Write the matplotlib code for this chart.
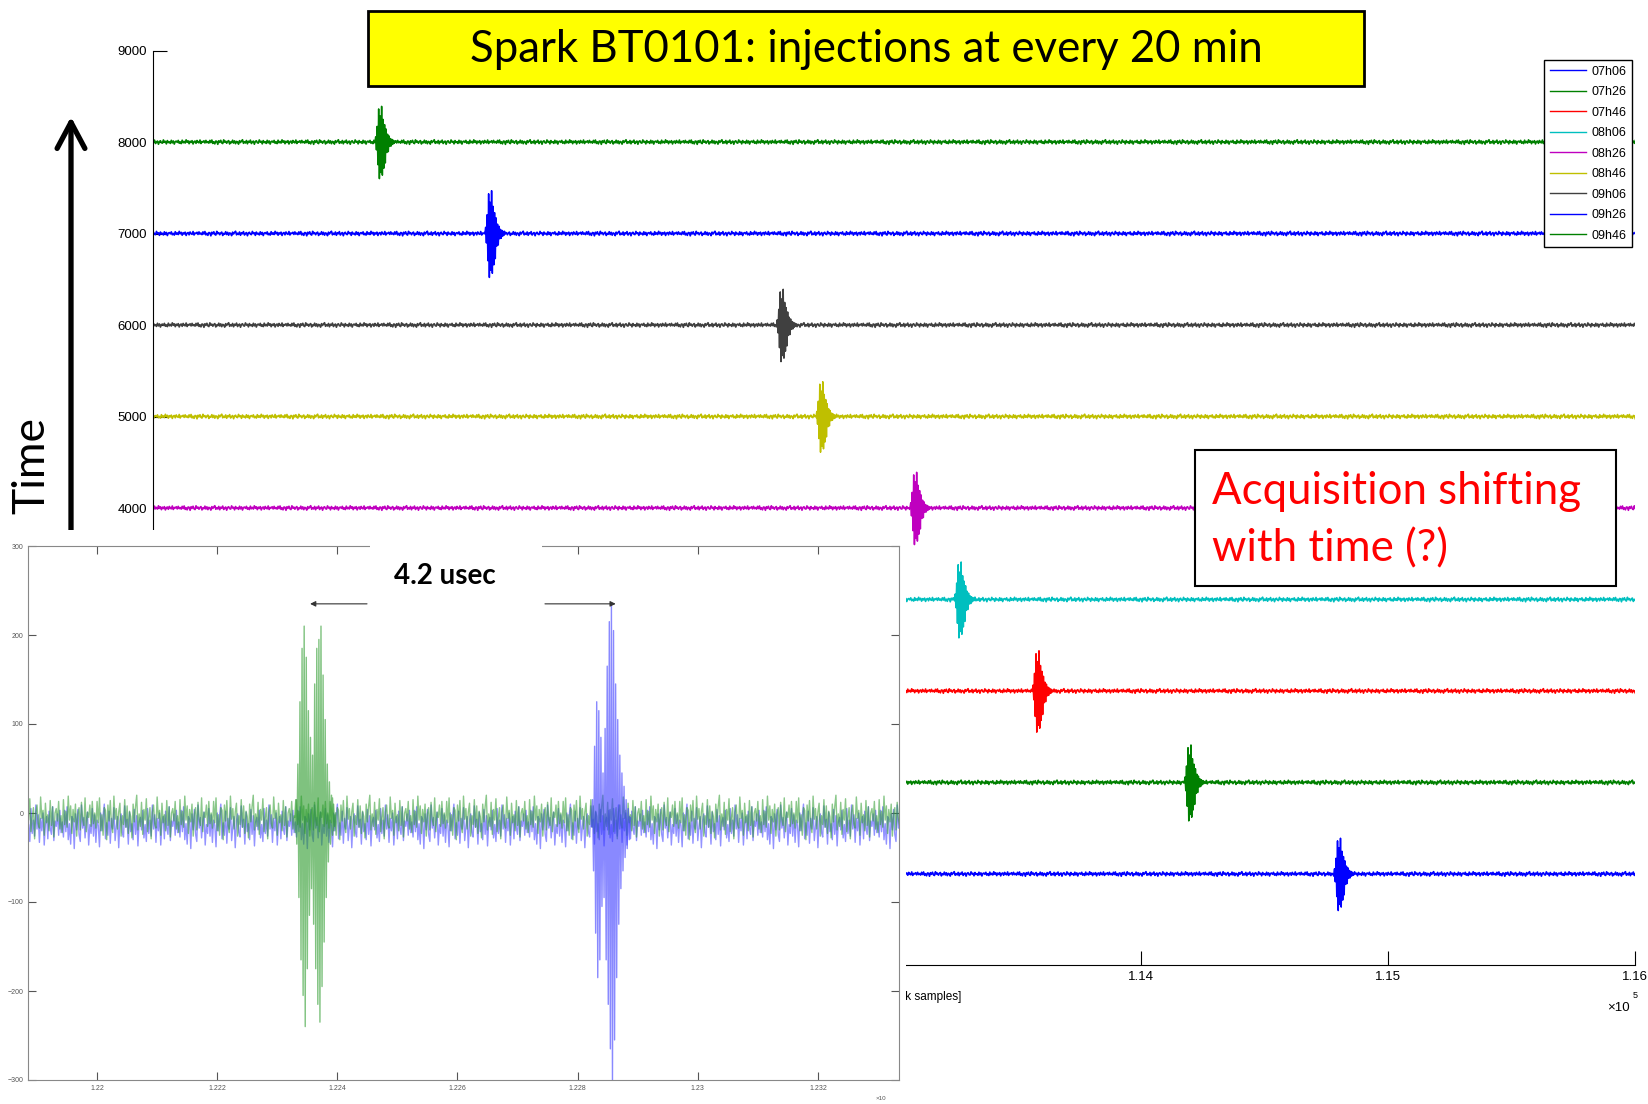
import numpy as np
import matplotlib
matplotlib.use("Agg")
import matplotlib.pyplot as plt
from matplotlib.patches import Rectangle, FancyArrowPatch
from matplotlib.ticker import FuncFormatter

# traces, in legend order (offset in the waterfall = 1000 per injection)
labels = ["07h06", "07h26", "07h46", "08h06", "08h26", "08h46", "09h06", "09h26", "09h46"]
offsets = [0, 1000, 2000, 3000, 4000, 5000, 6000, 7000, 8000]
colors = ["#0000ff", "#008000", "#ff0000", "#00bfbf", "#bf00bf", "#bfbf00", "#404040", "#0000ff", "#008000"]
burst_start = [114780, 114175, 113560, 113245, 113065, 112685, 112525, 111345, 110900]
burst_peak = [400, 420, 450, 420, 400, 390, 400, 480, 400]

# burst shape (units for a 420 peak)
burst = [0, 60, -90, 180, -260, 380, -420, 300, -350, 410, -380, 260, -300, 200, -240,
         150, -120, 90, -110, 70, -50, 40, -45, 30, -25, 20, -15, 10, 0]
# baseline fuzz
noise = [5, -12, 18, -6, 22, -15, 3, -20, 11, 8, -25, 14, -4, 19, -9, -17, 24, -2, 10, -13,
         6, 16, -21, 2, -8, 20, -11, 13, -18, 7, 1, -23, 15, -5, 12, 25, -14, 4, -10, 17,
         -19, 9, -3, 21, -16, 0, 11, -24, 6, 14, -7, -12, 23, -1, 8, -20, 16, -6, 3, -15,
         19, -9, 12, -22, 5, 10, -4, 18, -13, 2, -17, 20, -8, 7, -11, 24, -3, 13, -18, 9,
         -5, 15, -21, 4, 11, -14, 17, -2, -9, 22, -16, 6, 0, 14, -10, 18, -7]

# zoomed inset: 09h46 (green) vs 09h26 (blue)
green_start = 122329
green_burst = [0, 20, -30, 60, -90, 130, -160, 190, -200, 215, -235, 180, -170, 120, -110, 90,
               -80, 70, -120, 150, -170, 190, -210, 200, -230, 215, -190, 160, -140, 110, -90,
               60, -50, 40, -30, 25, -20, 15, -10, 5]
blue_start = 122823
blue_burst = [0, 30, -50, 90, -120, 140, -170, 130, -150, 100, -90, 60, -80, 110, -150, 180,
              -200, 230, -250, 250, -290, 220, -240, 160, -170, 120, -110, 80, -70, 60, -50,
              45, -35, 30, -25, 20, -15, 10]
green_base = -5
blue_base = -15

W, H = 1649, 1104
fig = plt.figure(figsize=(W / 100, H / 100), dpi=100)
plt.rcParams["font.family"] = ["Liberation Sans", "DejaVu Sans"]


def fx(px):
    return px / W


def fy(py):
    return 1 - py / H


# ---- main waterfall ----
ax = fig.add_axes([0.0925, 0.1255, 0.8992, 0.8287])
xs = np.arange(110000, 116001, 4)
for i in range(len(labels)):
    nz = np.resize(np.roll(noise, 7 * i), len(xs))
    ax.plot(xs, offsets[i] + nz, color=colors[i], lw=1.2, label=labels[i])
    bx = burst_start[i] + np.arange(len(burst)) * 3
    by = offsets[i] + np.array(burst) * burst_peak[i] / 420
    ax.plot(bx, by, color=colors[i], lw=1.1)

ax.set_xlim(110000, 116000)
ax.set_ylim(-1000, 9000)
ax.set_xticks(range(110000, 116001, 1000))
ax.set_yticks(range(-1000, 9001, 1000))
ax.xaxis.set_major_formatter(FuncFormatter(lambda v, p: f"{v / 1e5:g}"))
ax.yaxis.set_major_formatter(FuncFormatter(lambda v, p: f"{int(v)}"))
ax.tick_params(direction="in", length=10, labelsize=9.5, pad=4)
ax.spines["top"].set_visible(False)
ax.spines["right"].set_visible(False)
leg = ax.legend(loc="upper right", bbox_to_anchor=(fx(1632), fy(60)), bbox_transform=fig.transFigure,
                fontsize=9, frameon=True, fancybox=False, edgecolor="black", framealpha=1,
                handlelength=2.9, handletextpad=0.4, labelspacing=0.68, borderpad=0.45,
                borderaxespad=0)
for ln in leg.get_lines():
    ln.set_linewidth(1.0)

fig.text(fx(961), fy(997), "Time [clock samples]", ha="right", va="center", fontsize=8.5, zorder=1)
fig.text(fx(1630), fy(1008), "\u00d710", ha="right", va="center", fontsize=9.5)
fig.text(fx(1633), fy(995), "5", ha="left", va="center", fontsize=6.5)

# white pasted panel + zoomed inset
fig.add_artist(Rectangle((0, 0), fx(906), 1 - 530 / H, transform=fig.transFigure,
                         facecolor="white", edgecolor="none", zorder=2))

ins = fig.add_axes([fx(28), fy(1080), fx(899 - 28), (1080 - 546) / H])
ins.set_zorder(3)
xi = np.arange(121880, 123341, 2)
ins.plot(xi, blue_base + np.resize(np.roll(noise, 31), len(xi)), color="#3a3aff", lw=1, alpha=0.55)
ins.plot(xi, green_base + np.resize(np.roll(noise, 58), len(xi)), color="#2a9a2a", lw=1, alpha=0.55)
ins.plot(green_start + np.arange(len(green_burst)) * 1.75, green_base + np.array(green_burst),
         color="#2a9a2a", lw=1, alpha=0.6)
ins.plot(blue_start + np.arange(len(blue_burst)) * 1.75, blue_base + np.array(blue_burst),
         color="#3a3aff", lw=1, alpha=0.6)
ins.set_xlim(121885, 123335)
ins.set_ylim(-300, 300)
ins.set_xticks(range(122000, 123201, 200))
ins.set_yticks(range(-300, 301, 100))
ins.xaxis.set_major_formatter(FuncFormatter(lambda v, p: f"{v / 1e5:g}"))
ins.tick_params(direction="in", length=6, labelsize=5, colors="#555555", top=True, right=True)
for s in ins.spines.values():
    s.set_color("#888888")

ins.add_patch(Rectangle((122454, 228), 287, 80, facecolor="white", edgecolor="none",
                        clip_on=False, zorder=5))
ins.text(122579, 266, "4.2 usec", ha="center", va="center", fontsize=20, fontweight="bold",
         family=["Lato", "DejaVu Sans"], zorder=6)
ins.annotate("", xy=(122350, 235), xytext=(122454, 235),
             arrowprops=dict(arrowstyle="-|>", color="#333333", lw=0.8, mutation_scale=8), zorder=6)
ins.annotate("", xy=(122868, 235), xytext=(122741, 235),
             arrowprops=dict(arrowstyle="-|>", color="#333333", lw=0.8, mutation_scale=8), zorder=6)
fig.text(fx(886), fy(1098), "\u00d710", ha="right", va="center", fontsize=4.5, color="#555555", zorder=4)

# ---- slide annotations ----
fig.add_artist(Rectangle((fx(368), fy(86)), fx(1364 - 368), (86 - 11) / H, transform=fig.transFigure,
                         facecolor="#ffff00", edgecolor="black", lw=2, zorder=10))
fig.text(fx(866), fy(50), "Spark BT0101: injections at every 20 min", ha="center", va="center",
         fontsize=31.5, family=["Lato", "DejaVu Sans"], zorder=11)

fig.add_artist(Rectangle((fx(1195), fy(586)), fx(1616 - 1195), (586 - 450) / H, transform=fig.transFigure,
                         facecolor="white", edgecolor="black", lw=1.5, zorder=10))
fig.text(fx(1212), fy(520), "Acquisition shifting\nwith time (?)", ha="left", va="center",
         fontsize=31.5, color="red", family=["Lato", "DejaVu Sans"], linespacing=1.48, zorder=11)

fig.text(fx(32), fy(465), "Time", rotation=90, ha="center", va="center", fontsize=32,
         family=["Lato", "DejaVu Sans"], zorder=11)
fig.add_artist(FancyArrowPatch((fx(71), fy(600)), (fx(71), fy(114)), transform=fig.transFigure,
                               arrowstyle="->,head_length=7.5,head_width=4", lw=3.8, color="black",
                               mutation_scale=2.5, zorder=1))

fig.savefig("out.png", dpi=100)
